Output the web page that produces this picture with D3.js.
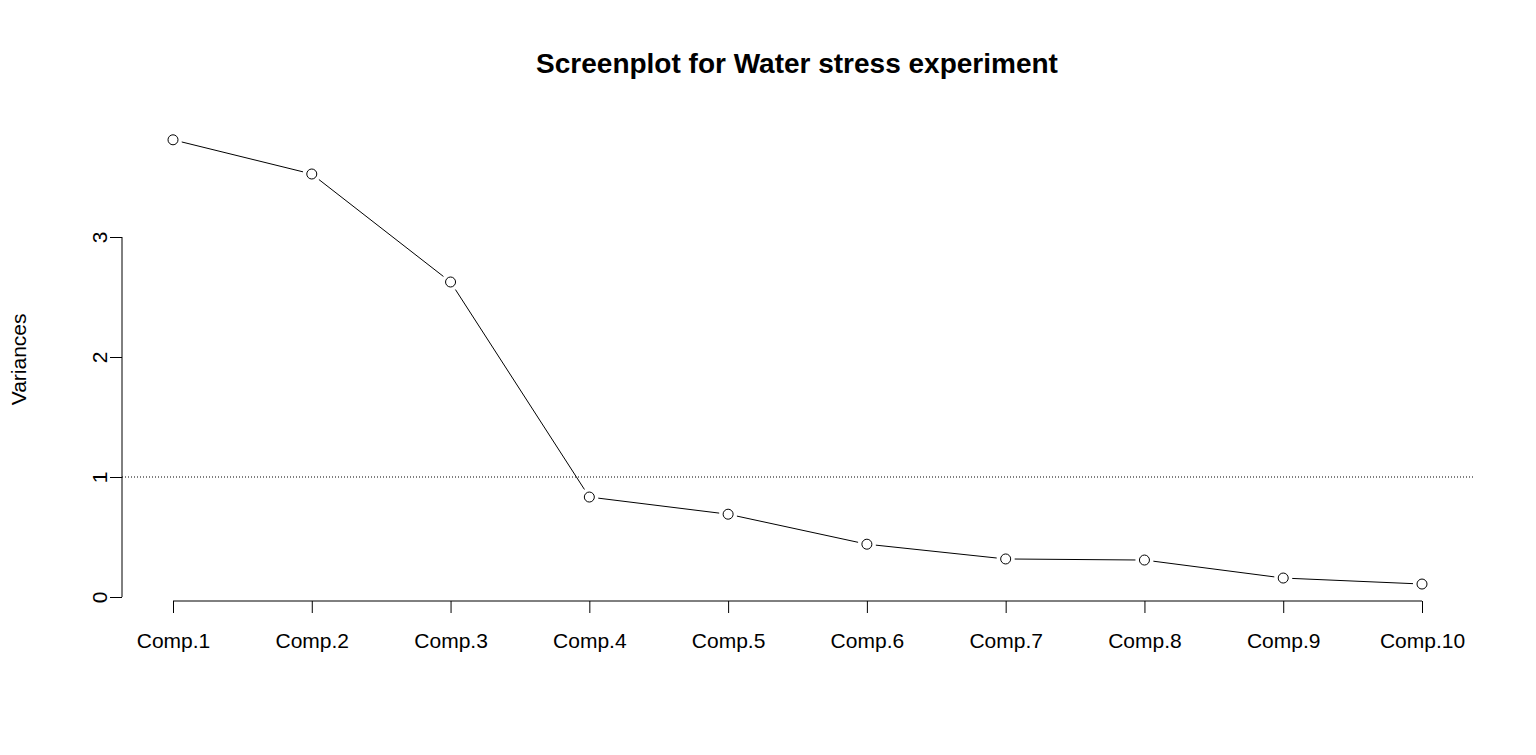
<!DOCTYPE html>
<html>
<head>
<meta charset="utf-8">
<script src="https://cdn.jsdelivr.net/npm/d3@7"></script>
<style>
  body { margin: 0; background: #fff; }
  text { font-family: "Liberation Sans", Arial, sans-serif; fill: #000; }
</style>
</head>
<body>
<div id="chart"></div>
<script>
// Screeplot - component variances
const components = ['Comp.1', 'Comp.2', 'Comp.3', 'Comp.4', 'Comp.5', 'Comp.6', 'Comp.7', 'Comp.8', 'Comp.9', 'Comp.10'];
const variances = [3.81, 3.525, 2.625, 0.833, 0.69, 0.44, 0.317, 0.308, 0.158, 0.108];
const yTicks = [0, 1, 2, 3];

const width = 1536;
const height = 755;

const svg = d3.select('#chart')
    .append('svg')
    .attr('width', width)
    .attr('height', height);

// Scales
const x = d3.scalePoint()
    .domain(components)
    .range([173, 1422]);

const y = d3.scaleLinear()
    .domain([0, 3])
    .range([597, 237]);

// Title
svg.append('text')
    .attr('x', 797)
    .attr('y', 73)
    .attr('text-anchor', 'middle')
    .style('font-size', '28px')
    .style('font-weight', '700')
    .text('Screenplot for Water stress experiment');

// Y axis
const yAxis = svg.append('g')
    .attr('transform', 'translate(122,0)')
    .call(d3.axisLeft(y).tickValues(yTicks).tickSize(12).tickFormat(d3.format('d')));
yAxis.select('.domain').attr('d', `M0,${y(0)}V${y(3)}`);
yAxis.selectAll('.tick text')
    .attr('x', 0).attr('dy', 0)
    .attr('transform', 'translate(-15,0) rotate(-90)')
    .attr('text-anchor', 'middle')
    .style('font-size', '21px')
    .style('font-family', '"Liberation Sans", Arial, sans-serif');

// X axis
const xAxis = svg.append('g')
    .attr('transform', 'translate(0,601)')
    .call(d3.axisBottom(x).tickSize(12).tickSizeOuter(0));
xAxis.select('.domain').attr('d', `M${x('Comp.1')},0H${x('Comp.10')}`);
xAxis.selectAll('.tick text')
    .attr('y', 47).attr('dy', 0)
    .style('font-size', '21px')
    .style('font-family', '"Liberation Sans", Arial, sans-serif');

// Y label
svg.append('text')
    .attr('transform', `translate(26,${y(1.98)}) rotate(-90)`)
    .attr('text-anchor', 'middle')
    .style('font-size', '21px')
    .text('Variances');

// Reference line at 1
svg.append('line')
    .attr('x1', 122).attr('x2', 1473)
    .attr('y1', y(1)).attr('y2', y(1))
    .attr('stroke', '#000')
    .attr('stroke-width', 1)
    .attr('stroke-dasharray', '1,2');

// Line segments with gaps around points (type = "b")
const pts = components.map((c, i) => [x(c), y(variances[i])]);
const gap = 9;
for (let i = 0; i < pts.length - 1; i++) {
    const [x1, y1] = pts[i], [x2, y2] = pts[i + 1];
    const len = Math.hypot(x2 - x1, y2 - y1);
    const ux = (x2 - x1) / len, uy = (y2 - y1) / len;
    svg.append('line')
        .attr('x1', x1 + ux * gap).attr('y1', y1 + uy * gap)
        .attr('x2', x2 - ux * gap).attr('y2', y2 - uy * gap)
        .attr('stroke', '#000').attr('stroke-width', 1);
}

svg.selectAll('circle.pt')
    .data(variances)
    .enter()
    .append('circle')
    .attr('class', 'pt')
    .attr('cx', (d, i) => x(components[i]))
    .attr('cy', d => y(d))
    .attr('r', 5)
    .attr('fill', '#fff')
    .attr('stroke', '#000')
    .attr('stroke-width', 1);
</script>
</body>
</html>
